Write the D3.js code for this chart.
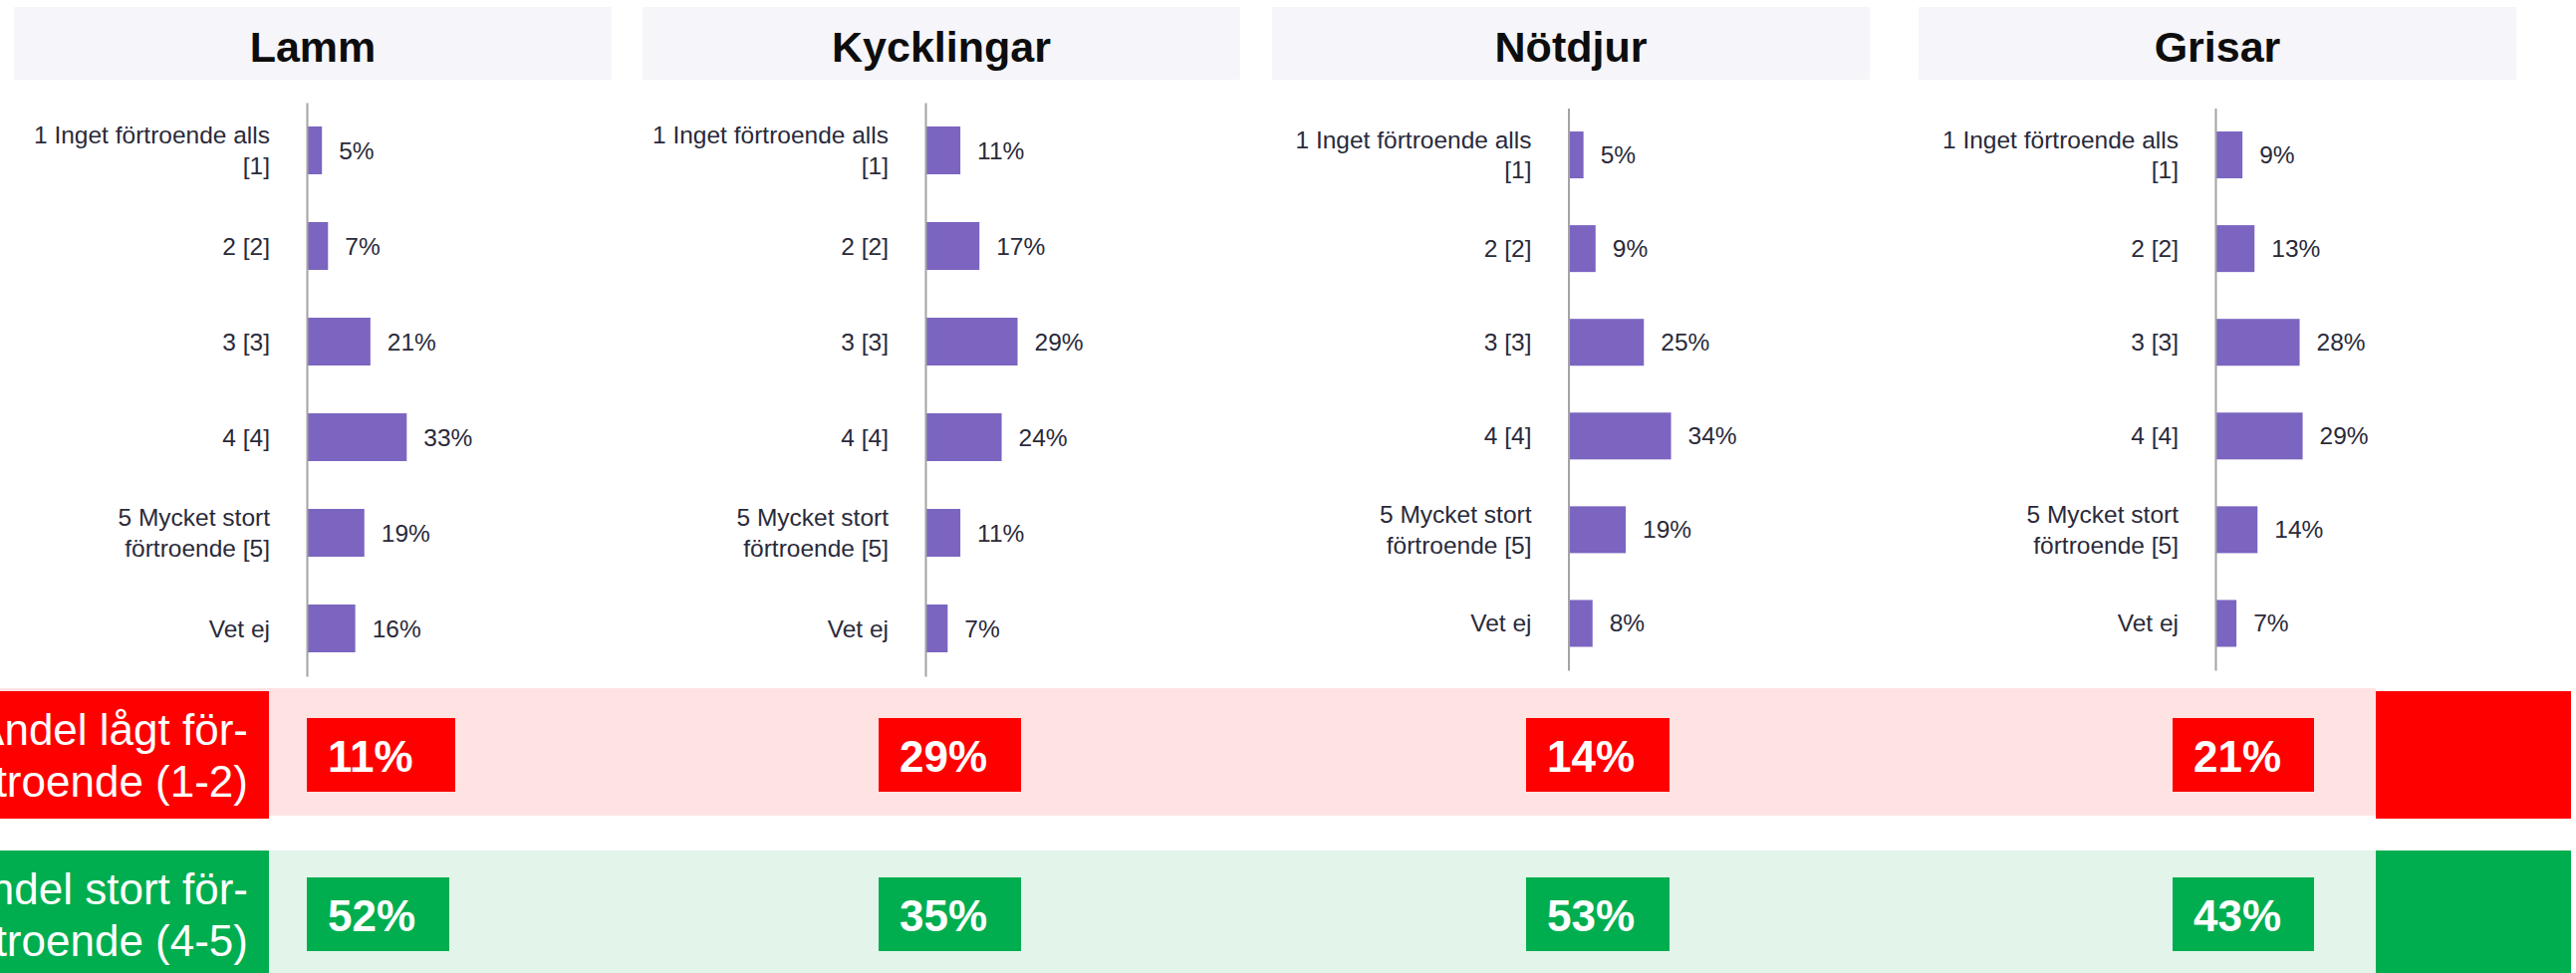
<!DOCTYPE html>
<html>
<head>
<meta charset="utf-8">
<script src="https://cdn.jsdelivr.net/npm/d3@7"></script>
<style>
  html, body { margin: 0; padding: 0; background: #ffffff; overflow: hidden; }
  svg { display: block; font-family: "Liberation Sans", Arial, sans-serif; }
</style>
</head>
<body>
<svg id="chart" width="2586" height="977"></svg>
<script>
// ---------------- DATA ----------------
const animals = ["Lamm", "Kycklingar", "Nötdjur", "Grisar"];
const categories = [
  "1 Inget förtroende alls\n[1]",
  "2 [2]",
  "3 [3]",
  "4 [4]",
  "5 Mycket stort\nförtroende [5]",
  "Vet ej"
];
const lammValues = [5, 7, 21, 33, 19, 16];
const kycklingarValues = [11, 17, 29, 24, 11, 7];
const notdjurValues = [5, 9, 25, 34, 19, 8];
const grisarValues = [9, 13, 28, 29, 14, 7];
const lowTrustShare = [11, 29, 14, 21];
const highTrustShare = [52, 35, 53, 43];
const summaryLabels = ["Andel lågt för-\ntroende (1-2)", "Andel stort för-\ntroende (4-5)"];

const seriesValues = [lammValues, kycklingarValues, notdjurValues, grisarValues];

// ---------------- LAYOUT ----------------
const panels = [
  { headerX: 14,   axisX: 308,    y0: 103,   y1: 679, pxPerPct: 3.04, boxX: 308,  lowW: 149, highW: 143 },
  { headerX: 645,  axisX: 929,    y0: 103,   y1: 679, pxPerPct: 3.19, boxX: 882,  lowW: 143, highW: 143 },
  { headerX: 1277, axisX: 1574.5, y0: 108.5, y1: 673, pxPerPct: 3.03, boxX: 1532, lowW: 144, highW: 144 },
  { headerX: 1926, axisX: 2224,   y0: 108.5, y1: 673, pxPerPct: 3.02, boxX: 2181, lowW: 142, highW: 142 }
];
const headerW = 600, headerY = 7, headerH = 73;
const labelFont = 24.5, lineGap = 30.5;

const colors = {
  headerBg: "#f5f5fa",
  title: "#0d0d0d",
  text: "#2a2a3a",
  bar: "#7b65c0",
  axis: "#a3a3a3",
  red: "#ff0000",
  pink: "#ffe3e3",
  green: "#00ae4f",
  lightGreen: "#e3f4ea"
};

const svg = d3.select("#chart");

// ---------------- SUMMARY BANDS ----------------
const bands = [
  { y: 691, h: 128, boxY: 694, boxH: 128, bg: colors.pink, fg: colors.red, values: lowTrustShare, valY: 721, valH: 74, wKey: "lowW", label: summaryLabels[0], base1: 748 },
  { y: 854, h: 123, boxY: 854, boxH: 123, bg: colors.lightGreen, fg: colors.green, values: highTrustShare, valY: 881, valH: 74, wKey: "highW", label: summaryLabels[1], base1: 908 }
];

bands.forEach(b => {
  svg.append("rect").attr("x", 0).attr("y", b.y).attr("width", 2385).attr("height", b.h).attr("fill", b.bg);
  svg.append("rect").attr("x", 0).attr("y", b.boxY).attr("width", 270).attr("height", b.boxH).attr("fill", b.fg);
  svg.append("rect").attr("x", 2385).attr("y", b.boxY).attr("width", 196).attr("height", b.boxH).attr("fill", b.fg);
  const t = svg.append("text")
    .attr("text-anchor", "end")
    .attr("fill", "#ffffff")
    .attr("font-size", 44);
  b.label.split("\n").forEach((line, i) => {
    t.append("tspan").attr("x", 249).attr("y", b.base1 + i * 52).text(line);
  });
  b.values.forEach((v, i) => {
    const p = panels[i];
    svg.append("rect")
      .attr("x", p.boxX).attr("y", b.valY)
      .attr("width", p[b.wKey]).attr("height", b.valH)
      .attr("fill", b.fg);
    svg.append("text")
      .attr("x", p.boxX + 21).attr("y", b.valY + b.valH / 2 + 17)
      .attr("fill", "#ffffff").attr("font-size", 44).attr("font-weight", "bold")
      .text(v + "%");
  });
});

// ---------------- PANELS ----------------
animals.forEach((name, i) => {
  const p = panels[i];
  const values = seriesValues[i];
  const g = svg.append("g");

  // header
  g.append("rect").attr("x", p.headerX).attr("y", headerY)
    .attr("width", headerW).attr("height", headerH).attr("fill", colors.headerBg);
  g.append("text").attr("x", p.headerX + headerW / 2).attr("y", 62)
    .attr("text-anchor", "middle").attr("font-size", 43).attr("font-weight", "bold")
    .attr("fill", colors.title).text(name);

  const y = d3.scaleBand().domain(categories).range([p.y0, p.y1]).paddingInner(0.5).paddingOuter(0.25);
  const x = d3.scaleLinear().domain([0, 100]).range([0, 100 * p.pxPerPct]);

  const plot = g.append("g").attr("transform", `translate(${p.axisX},0)`);

  plot.selectAll("rect.bar").data(values).join("rect")
    .attr("class", "bar")
    .attr("x", 0)
    .attr("y", (d, j) => y(categories[j]))
    .attr("width", d => x(d))
    .attr("height", y.bandwidth())
    .attr("fill", colors.bar);

  plot.selectAll("text.val").data(values).join("text")
    .attr("class", "val")
    .attr("x", d => x(d) + 17)
    .attr("y", (d, j) => y(categories[j]) + y.bandwidth() / 2 + 8.5)
    .attr("font-size", labelFont)
    .attr("fill", colors.text)
    .text(d => d + "%");

  const axis = d3.axisLeft(y).tickSize(0).tickSizeOuter(0).tickPadding(37);
  const ax = plot.append("g").call(axis);
  ax.select(".domain").attr("stroke", colors.axis).attr("stroke-width", 2);
  ax.selectAll(".tick text").each(function(d) {
    const t = d3.select(this);
    const lines = d.split("\n");
    t.text(null).attr("dy", null)
      .attr("font-size", labelFont)
      .attr("font-family", '"Liberation Sans", Arial, sans-serif')
      .attr("fill", colors.text);
    const first = 8.5 - (lines.length - 1) * lineGap / 2;
    lines.forEach((line, k) => {
      t.append("tspan").attr("x", -37).attr("y", first + k * lineGap).text(line);
    });
  });
  ax.raise();
});
</script>
</body>
</html>
